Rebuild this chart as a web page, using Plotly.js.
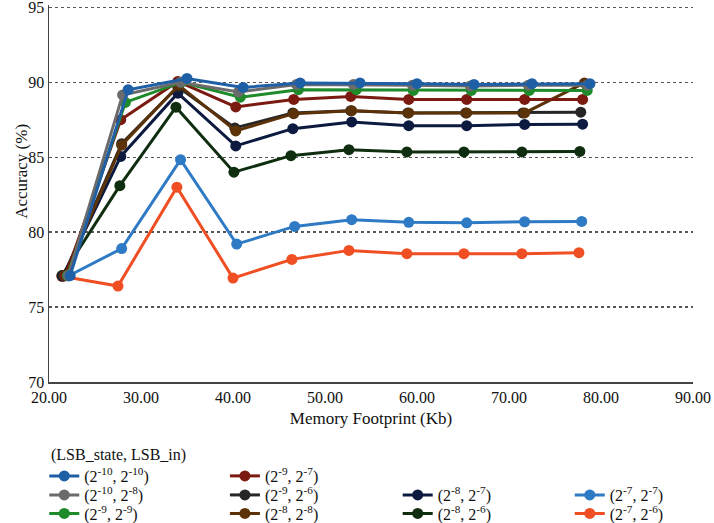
<!DOCTYPE html>
<html>
<head>
<meta charset="utf-8">
<script src="https://cdn.plot.ly/plotly-3.0.1.min.js"></script>
<style>html,body{margin:0;padding:0;background:#fff;}#chart{width:714px;height:523px;}</style>
</head>
<body>
<div id="chart"></div>
<script>
// Legend title and series names (LSB_state, LSB_in)
const legendTitle = '(LSB_state, LSB_in)';
const seriesNames = [
  '(2<sup>-10</sup>, 2<sup>-10</sup>)',
  '(2<sup>-10</sup>, 2<sup>-8</sup>)',
  '(2<sup>-9</sup>, 2<sup>-9</sup>)',
  '(2<sup>-9</sup>, 2<sup>-7</sup>)',
  '(2<sup>-9</sup>, 2<sup>-6</sup>)',
  '(2<sup>-8</sup>, 2<sup>-8</sup>)',
  '(2<sup>-8</sup>, 2<sup>-7</sup>)',
  '(2<sup>-8</sup>, 2<sup>-6</sup>)',
  '(2<sup>-7</sup>, 2<sup>-7</sup>)',
  '(2<sup>-7</sup>, 2<sup>-6</sup>)'
];

// Memory footprint (Kb) per series
const x_10_10 = [22.3, 28.6, 35.0, 41.1, 47.3, 53.8, 60.0, 66.2, 72.5, 78.8];
const x_10_8  = [22.1, 28.0, 34.3, 40.6, 46.9, 53.1, 59.5, 65.8, 72.1, 78.5];
const x_9_9   = [22.0, 28.3, 34.4, 40.8, 47.1, 53.4, 59.6, 65.9, 72.2, 78.5];
const x_9_7   = [21.8, 27.8, 34.0, 40.3, 46.6, 52.8, 59.1, 65.4, 71.7, 78.0];
const x_9_6   = [21.6, 27.9, 34.0, 40.2, 46.5, 52.8, 59.0, 65.3, 71.5, 77.8];
const x_8_8   = [21.7, 27.9, 34.1, 40.3, 46.6, 52.9, 59.1, 65.4, 71.7, 78.2];
const x_8_7   = [21.5, 27.8, 34.0, 40.3, 46.5, 52.9, 59.1, 65.4, 71.7, 78.0];
const x_8_6   = [21.4, 27.7, 33.8, 40.1, 46.3, 52.6, 58.9, 65.1, 71.4, 77.7];
const x_7_7   = [22.1, 27.9, 34.3, 40.4, 46.7, 52.9, 59.1, 65.4, 71.7, 77.9];
const x_7_6   = [21.4, 27.5, 33.9, 40.0, 46.4, 52.6, 58.9, 65.1, 71.4, 77.6];

// Accuracy (%) per series
const y_10_10 = [77.1, 89.5, 90.25, 89.65, 89.95, 89.95, 89.9, 89.85, 89.9, 89.9];
const y_10_8  = [77.1, 89.15, 90.0, 89.35, 89.85, 89.85, 89.8, 89.75, 89.8, 89.8];
const y_9_9   = [77.1, 88.65, 90.0, 89.0, 89.5, 89.5, 89.45, 89.45, 89.45, 89.45];
const y_9_7   = [77.1, 87.5, 90.05, 88.35, 88.85, 89.05, 88.85, 88.85, 88.85, 88.85];
const y_9_6   = [77.1, 85.9, 89.7, 86.95, 87.95, 88.1, 87.95, 87.95, 87.95, 88.0];
const y_8_8   = [77.1, 85.8, 89.8, 86.75, 87.9, 88.1, 87.95, 87.95, 87.95, 89.95];
const y_8_7   = [77.05, 85.05, 89.27, 85.75, 86.9, 87.35, 87.1, 87.1, 87.18, 87.2];
const y_8_6   = [77.1, 83.1, 88.33, 84.0, 85.1, 85.5, 85.35, 85.35, 85.35, 85.38];
const y_7_7   = [77.07, 78.9, 84.83, 79.2, 80.38, 80.83, 80.65, 80.62, 80.69, 80.71];
const y_7_6   = [77.05, 76.4, 83.0, 76.93, 78.18, 78.78, 78.56, 78.56, 78.56, 78.63];

const xTickVals = [20, 30, 40, 50, 60, 70, 80, 90];
const yTickVals = [70, 75, 80, 85, 90, 95];

const xs = [x_10_10, x_10_8, x_9_9, x_9_7, x_9_6, x_8_8, x_8_7, x_8_6, x_7_7, x_7_6];
const ys = [y_10_10, y_10_8, y_9_9, y_9_7, y_9_6, y_8_8, y_8_7, y_8_6, y_7_7, y_7_6];
const colors = ['#1F5FA6', '#6B6B6B', '#1E8A2A', '#7A1A10', '#262626', '#5C3209', '#0D1A40', '#0F2E0F', '#2F7AC4', '#F04E23'];

// legend grid placement (column, row) for each series
const legCol = [0, 0, 0, 1, 1, 1, 2, 2, 3, 3];
const legRow = [0, 1, 2, 0, 1, 2, 1, 2, 1, 2];
const colX = [0.062, 0.315, 0.557, 0.798];
const rowY = [0.1224, 0.0860, 0.0506];

const drawOrder = [9, 8, 7, 6, 4, 5, 3, 2, 1, 0];
const traces = drawOrder.map(i => ({
  type: 'scatter',
  mode: 'lines+markers',
  x: xs[i],
  y: ys[i],
  name: seriesNames[i],
  legend: i === 0 ? 'legend' : 'legend' + (i + 1),
  line: {color: colors[i], width: 3},
  marker: {color: colors[i], size: 11},
  hoverinfo: 'skip'
}));

const serif = 'Liberation Serif';
const legFont = {family: serif, size: 16, color: '#111'};

const layout = {
  width: 714, height: 523,
  margin: {l: 49, r: 21, t: 5, b: 141, autoexpand: false},
  paper_bgcolor: '#fff', plot_bgcolor: '#fff',
  showlegend: true,
  font: {family: serif},
  xaxis: {
    range: [20, 90], tickvals: xTickVals, tickformat: '.2f', tickangle: 0,
    showgrid: false, zeroline: false,
    showline: true, linecolor: '#444', linewidth: 1.5,
    ticks: '', tickfont: {family: serif, size: 16, color: '#111'},
    title: {text: 'Memory Footprint (Kb)', font: {family: serif, size: 17, color: '#111'}, standoff: 7},
    automargin: false
  },
  yaxis: {
    range: [70, 95.15], tickvals: yTickVals, ticklabeloverflow: 'allow',
    showgrid: true, gridcolor: '#555', gridwidth: 1.3, griddash: 'dot',
    zeroline: false, showline: true, linecolor: '#444', linewidth: 1.5,
    ticks: '', tickfont: {family: serif, size: 16, color: '#111'},
    automargin: false
  },
  annotations: [
    {
      text: 'Accuracy (%)', xref: 'paper', yref: 'paper', x: 0, y: 0.559,
      xshift: -39, textangle: -90, showarrow: false,
      font: {family: serif, size: 17, color: '#111'}
    },
    {
      text: legendTitle, xref: 'paper', yref: 'paper', x: 0, y: -0.1936,
      xanchor: 'left', yanchor: 'middle', showarrow: false,
      font: legFont
    }
  ]
};

for (let i = 0; i < seriesNames.length; i++) {
  const id = i === 0 ? 'legend' : 'legend' + (i + 1);
  layout[id] = {
    orientation: 'v', xref: 'container', yref: 'container', xanchor: 'left', yanchor: 'top',
    x: colX[legCol[i]], y: rowY[legRow[i]],
    bgcolor: 'rgba(0,0,0,0)', font: legFont, itemwidth: 30
  };
}

Plotly.newPlot('chart', traces, layout, {displayModeBar: false, staticPlot: true});
</script>
</body>
</html>
